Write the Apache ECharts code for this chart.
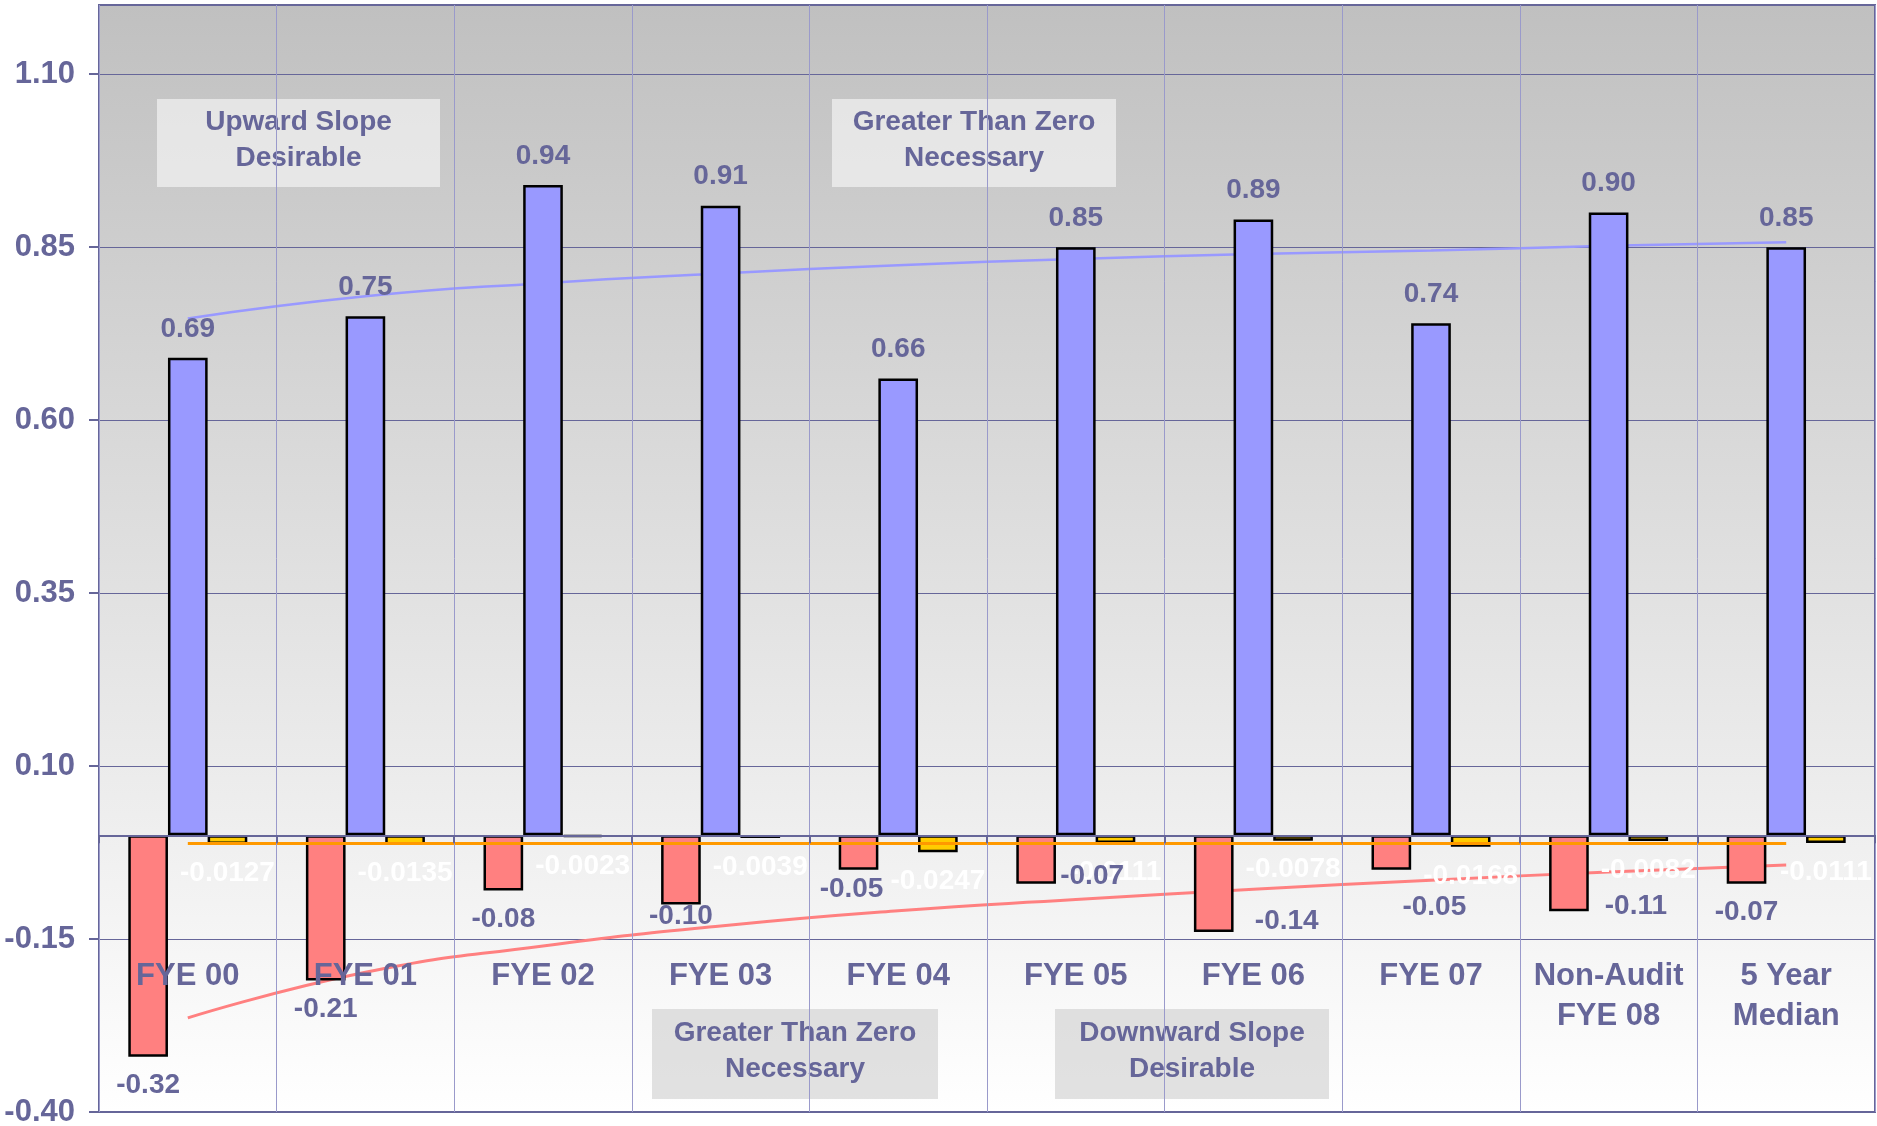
<!DOCTYPE html>
<html>
<head>
<meta charset="utf-8">
<title>Ratio trends</title>
<script src="https://cdn.jsdelivr.net/npm/echarts@6/dist/echarts.min.js"></script>
<style>
  html, body { margin: 0; padding: 0; background: #ffffff; }
  #chart { width: 1877px; height: 1126px; }
</style>
</head>
<body>
<div id="chart"></div>
<script>
// Categories along the bottom
const categories = ['FYE 00', 'FYE 01', 'FYE 02', 'FYE 03', 'FYE 04', 'FYE 05', 'FYE 06', 'FYE 07', 'Non-Audit\nFYE 08', '5 Year\nMedian'];

// Bar values
const redValues = [-0.32, -0.21, -0.08, -0.10, -0.05, -0.07, -0.14, -0.05, -0.11, -0.07];
const blueValues = [0.69, 0.75, 0.94, 0.91, 0.66, 0.85, 0.89, 0.74, 0.90, 0.85];
const yellowValues = [-0.0127, -0.0135, -0.0023, -0.0039, -0.0247, -0.0111, -0.0078, -0.0168, -0.0082, -0.0111];

// Trend lines
const blueTrend = [0.747, 0.779, 0.798, 0.812, 0.824, 0.833, 0.840, 0.845, 0.852, 0.857];
const redTrend = [-0.264, -0.198, -0.160, -0.131, -0.109, -0.093, -0.078, -0.065, -0.053, -0.043];
const yellowTrend = [-0.012, -0.012, -0.012, -0.012, -0.012, -0.012, -0.012, -0.012, -0.012, -0.012];

// Value axis range and step
const yMin = -0.40;
const yMax = 1.20;
const yStep = 0.25;

// Hand-placed shifts for the red value labels, in pixels
const redLabelShift = [[0, 0], [0, 0], [0, 0], [0, -17], [-7, -10], [56, -36], [73, -40], [43, 8], [67, -34], [0, 0]];

const INK = '#666699';
const FONT = '"Liberation Sans", Arial, Helvetica, sans-serif';

const labelBase = { show: true, fontFamily: FONT, fontWeight: 'bold', fontSize: 28, color: INK, distance: 15 };

const chart = echarts.init(document.getElementById('chart'), null, { renderer: 'canvas' });

function noteBox(x, y, w, h, fill, text) {
  return {
    type: 'group', z: 50,
    children: [
      { type: 'rect', shape: { x: x, y: y, width: w, height: h }, style: { fill: fill } },
      { type: 'text', style: {
          text: text, x: x + w / 2, y: y + h / 2 - 3, align: 'center', verticalAlign: 'middle',
          font: 'bold 28px ' + FONT, lineHeight: 36, fill: INK } }
    ]
  };
}

chart.setOption({
  animation: false,
  grid: {
    left: 99, right: 2, top: 5, bottom: 14,
    containLabel: false,
    outerBoundsMode: 'none',
    show: true,
    borderColor: INK, borderWidth: 2,
    backgroundColor: new echarts.graphic.LinearGradient(0, 0, 0, 1, [
      { offset: 0, color: '#c0c0c0' },
      { offset: 1, color: '#ffffff' }
    ])
  },
  xAxis: {
    type: 'category',
    data: categories,
    z: 10,
    axisLine: { onZero: true, lineStyle: { color: INK, width: 2 } },
    axisTick: { show: true, interval: 0, length: 8, lineStyle: { color: INK, width: 2 } },
    splitLine: { show: true, interval: 0, lineStyle: { color: '#9a9acb', width: 1 } },
    axisLabel: {
      interval: 0, margin: -156, fontFamily: FONT, fontWeight: 'bold', fontSize: 31,
      lineHeight: 40, color: INK, verticalAlign: 'top'
    }
  },
  yAxis: {
    type: 'value',
    min: yMin, max: yMax, interval: yStep,
    axisLine: { show: true, lineStyle: { color: INK, width: 2 } },
    axisTick: { show: true, length: 10, lineStyle: { color: INK, width: 2 } },
    splitLine: { show: true, lineStyle: { color: INK, width: 1 } },
    axisLabel: {
      showMaxLabel: false, margin: 24, fontFamily: FONT, fontWeight: 'bold', fontSize: 31, color: INK,
      formatter: function (v) { return v.toFixed(2); }
    }
  },
  series: [
    {
      type: 'line', data: blueTrend, z: 1, symbol: 'none', smooth: 0.5,
      lineStyle: { color: '#9999ff', width: 2.5 }, silent: true
    },
    {
      type: 'line', data: redTrend, z: 1, symbol: 'none', smooth: 0.5,
      lineStyle: { color: '#ff8080', width: 3 }, silent: true
    },
    {
      type: 'bar', z: 4,
      data: redValues.map(function (v, i) { return { value: v, label: { offset: redLabelShift[i] } }; }),
      barGap: '0%', barCategoryGap: '33%',
      itemStyle: { color: '#ff8080', borderColor: '#000000', borderWidth: 2.5 },
      label: Object.assign({}, labelBase, { position: 'bottom', formatter: function (p) { return p.value.toFixed(2); } })
    },
    {
      type: 'bar', z: 3, data: blueValues,
      barGap: '0%', barCategoryGap: '33%',
      itemStyle: { color: '#9999ff', borderColor: '#000000', borderWidth: 2.5 },
      label: Object.assign({}, labelBase, { position: 'top', formatter: function (p) { return p.value.toFixed(2); } })
    },
    {
      type: 'bar', z: 3, data: yellowValues,
      barGap: '0%', barCategoryGap: '33%',
      itemStyle: { color: '#ffcc00', borderColor: '#000000', borderWidth: 2.5 },
      label: Object.assign({}, labelBase, { position: 'bottom', color: '#ffffff', formatter: function (p) { return p.value.toFixed(4); } })
    },
    {
      type: 'line', data: yellowTrend, z: 5, symbol: 'none',
      lineStyle: { color: '#ff9900', width: 3 }, silent: true
    }
  ],
  graphic: [
    noteBox(157, 99, 283, 88, 'rgba(255,255,255,0.55)', 'Upward Slope\nDesirable'),
    noteBox(832, 99, 284, 88, 'rgba(255,255,255,0.55)', 'Greater Than Zero\nNecessary'),
    noteBox(652, 1009, 286, 90, 'rgba(190,190,190,0.45)', 'Greater Than Zero\nNecessary'),
    noteBox(1055, 1009, 274, 90, 'rgba(190,190,190,0.45)', 'Downward Slope\nDesirable')
  ]
});
</script>
</body>
</html>
